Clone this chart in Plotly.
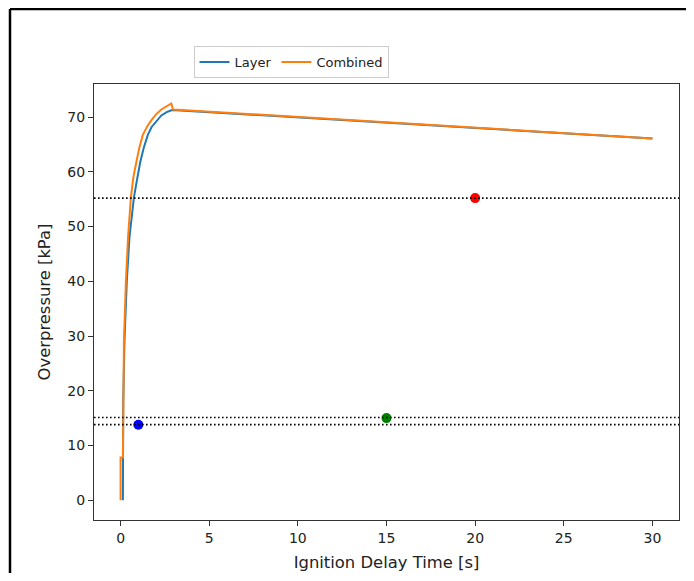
import plotly.graph_objects as go

# Data
layer_x = [0.13, 0.13, 0.15, 0.22, 0.35, 0.5, 0.75, 0.95, 1.11, 1.3, 1.53, 1.75, 2.0, 2.3, 2.6, 2.9, 30.0]
layer_y = [0.0, 6.4, 18.0, 29.2, 40.0, 48.0, 55.3, 59.0, 61.8, 64.3, 66.7, 68.2, 69.2, 70.3, 70.9, 71.3, 66.1]

combined_x = [0.0, 0.0, 0.13, 0.15, 0.19, 0.3, 0.42, 0.58, 0.72, 0.89, 1.05, 1.25, 1.5, 1.73, 2.0, 2.3, 2.6, 2.86, 2.96, 30.0]
combined_y = [0.0, 7.8, 7.8, 18.0, 29.2, 40.0, 48.0, 55.3, 59.0, 61.8, 64.3, 66.7, 68.3, 69.4, 70.5, 71.4, 72.0, 72.5, 71.4, 66.1]

threshold_levels = [55.2, 15.1, 13.8]

point_x = [1.0, 15.0, 20.0]
point_y = [13.8, 15.0, 55.2]
point_colors = ["#0000ff", "#008000", "#ff0000"]

x_ticks = [0, 5, 10, 15, 20, 25, 30]
y_ticks = [0, 10, 20, 30, 40, 50, 60, 70]

FONT = "DejaVu Sans, Liberation Sans, sans-serif"

# page has an 8px body margin; figure sized to fit the window
W, H = 678, 565
L, R, T, B = 86, 7, 76, 53
PW, PH = W - L - R, H - T - B


def px2paper_x(px):
    return (px - 8 - L) / PW


def px2paper_y(py):
    return (H - B - (py - 8)) / PH


fig = go.Figure()

fig.add_trace(go.Scatter(x=layer_x, y=layer_y, mode="lines", name="Layer",
                         line=dict(color="#1f77b4", width=2)))
fig.add_trace(go.Scatter(x=combined_x, y=combined_y, mode="lines", name="Combined",
                         line=dict(color="#ff7f0e", width=2)))

for lvl in threshold_levels:
    fig.add_hline(y=lvl, line=dict(color="black", width=1.6, dash="1.6px,2.4px"), layer="above")

for px_, py_, c in zip(point_x, point_y, point_colors):
    fig.add_trace(go.Scatter(x=[px_], y=[py_], mode="markers", showlegend=False,
                             marker=dict(color=c, size=10, line=dict(width=0))))

# outer black frame of the image (left and top edges only visible)
fig.add_shape(type="line", xref="paper", yref="paper",
              x0=px2paper_x(10), x1=px2paper_x(10),
              y0=px2paper_y(700), y1=px2paper_y(9),
              line=dict(color="black", width=2.5), layer="above")
fig.add_shape(type="line", xref="paper", yref="paper",
              x0=px2paper_x(10), x1=px2paper_x(800),
              y0=px2paper_y(9), y1=px2paper_y(9),
              line=dict(color="black", width=2.5), layer="above")

axis_common = dict(showgrid=False, zeroline=False, showline=True, linecolor="#333",
                   linewidth=1, mirror=True, ticks="outside", ticklen=5, tickwidth=1,
                   tickcolor="#333", tickfont=dict(family=FONT, size=14, color="#222"),
                   automargin=False)

fig.update_layout(
    width=W, height=H,
    margin=dict(l=L, r=R, t=T, b=B),
    plot_bgcolor="white", paper_bgcolor="white",
    font=dict(family=FONT, size=13, color="#222"),
    xaxis=dict(range=[-1.5, 31.5], tickvals=x_ticks,
               title=dict(text="Ignition Delay Time [s]", standoff=11,
                          font=dict(family=FONT, size=16.4, color="#222")),
               **axis_common),
    yaxis=dict(range=[-3.62, 76.05], tickvals=y_ticks,
               title=dict(text="Overpressure [kPa]", standoff=12,
                          font=dict(family=FONT, size=16.4, color="#222")),
               **axis_common),
    legend=dict(orientation="h", x=px2paper_x(291), y=px2paper_y(46),
                xanchor="center", yanchor="top",
                bordercolor="#cccccc", borderwidth=1, bgcolor="white",
                font=dict(family=FONT, size=13, color="#222"),
                itemwidth=30, tracegroupgap=0),
    showlegend=True,
)

fig.write_html("out.html")
